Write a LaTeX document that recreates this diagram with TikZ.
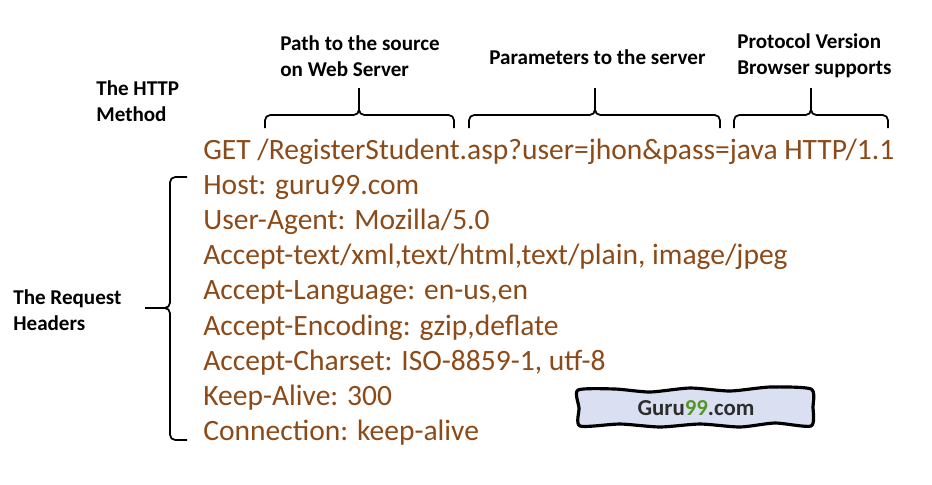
\documentclass[tikz,border=0pt]{standalone}
\usepackage{fontspec}
\setmainfont{Carlito}
\usepackage{xcolor}
\definecolor{reqbrown}{RGB}{140,74,24}
\definecolor{boxblue}{RGB}{218,224,242}
\definecolor{gurugreen}{RGB}{86,150,40}
\definecolor{gurugray}{RGB}{45,45,45}
\tikzset{
  reqline/.style={anchor=base west, inner sep=0pt, text=reqbrown, font=\fontsize{16.8}{20}\selectfont},
  tag/.style={anchor=west, inner sep=0pt, align=left, font=\fontsize{12}{14.7}\selectfont\bfseries},
  bracket/.style={line width=1pt, rounded corners=3pt},
}

\begin{document}
\begin{tikzpicture}[x=0.02cm,y=-0.02cm]
\useasboundingbox (0,0) rectangle (932,484);
% Labels
\node[tag] (http) at (96,101) {The HTTP\\Method};
\node[tag] (path) at (280,56) {Path to the source\\on Web Server};
\node[tag] (params) at (489,57) {Parameters to the server};
\node[tag] (proto) at (737,56) {Protocol Version\\Browser supports};
\node[tag] (headers) at (13,310) {The Request\\Headers};
% Request lines
\node[reqline] (get) at (203,159) {GET /RegisterStudent.asp?user=jhon\&pass=java HTTP/1.1};
\node[reqline] (host) at (203,194) {Host: guru99.com};
\node[reqline] (agent) at (203,229) {User-Agent: Mozilla/5.0};
\node[reqline] (accept) at (203,264) {Accept-text/xml,text/html,text/plain, image/jpeg};
\node[reqline] (lang) at (203,299) {Accept-Language: en-us,en};
\node[reqline] (enc) at (203,335) {Accept-Encoding: gzip,deflate};
\node[reqline] (charset) at (203,370) {Accept-Charset: ISO-8859-1, utf-8};
\node[reqline] (alive) at (203,405) {Keep-Alive: 300};
\node[reqline] (conn) at (203,440) {Connection: keep-alive};
% Top brackets
\draw[bracket] (265,128) |- (359,115) -- (359,88);
\draw[bracket] (359,88) -- (359,115) -| (454,128);
\draw[bracket] (469,128) |- (595,115) -- (595,88);
\draw[bracket] (595,88) -- (595,115) -| (720,128);
\draw[bracket] (734,128) |- (811,115) -- (811,88);
\draw[bracket] (811,88) -- (811,115) -| (888,128);
% Left bracket
\draw[bracket] (187,177) -| (170,308) -- (145,308);
\draw[bracket] (145,308) -- (170,308) |- (187,440);
% Guru99 box
\draw[line width=1.8pt, line join=round, fill=boxblue]
  plot[smooth cycle, tension=0.4] coordinates {(578,390) (615,389) (650,392) (690,388)
  (730,391) (770,387) (811,389) (813,407) (811,426) (775,423) (740,427) (700,424)
  (660,427) (620,424) (580,426) (579,408)};
\node[font=\fontsize{13}{16}\selectfont\bfseries] (guru) at (696,408)
  {\textcolor{gurugray}{Guru}\textcolor{gurugreen}{99}\textcolor{gurugray}{.com}};
\end{tikzpicture}
\end{document}
